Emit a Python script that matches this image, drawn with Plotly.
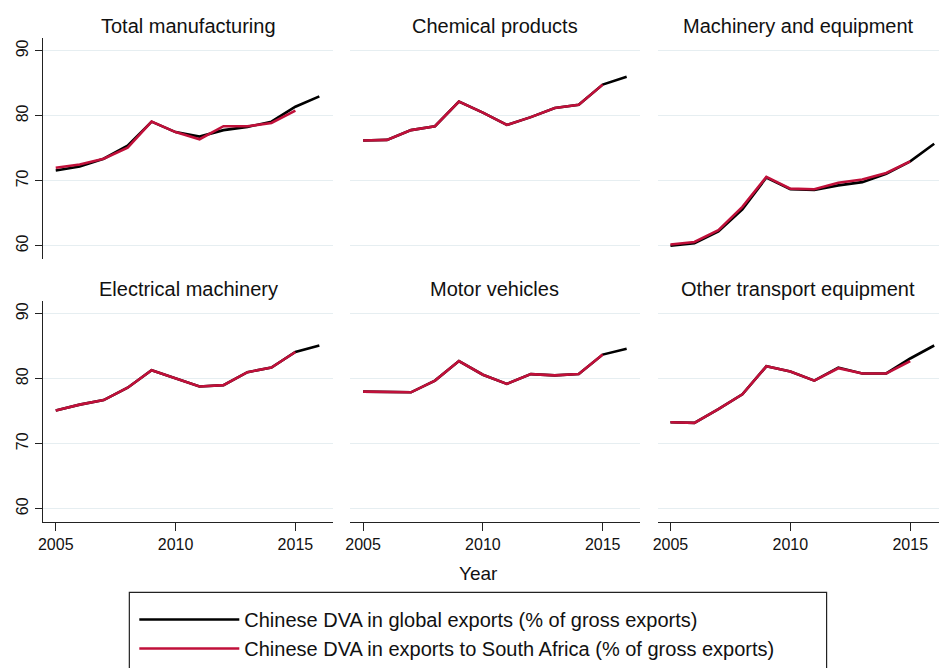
import plotly.graph_objects as go

years_global = [2005, 2006, 2007, 2008, 2009, 2010, 2011, 2012, 2013, 2014, 2015, 2016]
years_sa = [2005, 2006, 2007, 2008, 2009, 2010, 2011, 2012, 2013, 2014, 2015]

sectors = ["Total manufacturing", "Chemical products", "Machinery and equipment",
           "Electrical machinery", "Motor vehicles", "Other transport equipment"]

global_total = [71.6, 72.2, 73.4, 75.4, 79.1, 77.5, 76.8, 77.8, 78.3, 79.1, 81.4, 83.0]
sa_total = [72.0, 72.5, 73.4, 75.1, 79.1, 77.5, 76.4, 78.4, 78.4, 78.9, 80.8]

global_chem = [76.2, 76.3, 77.8, 78.4, 82.2, 80.5, 78.6, 79.8, 81.2, 81.7, 84.8, 86.0]
sa_chem = [76.2, 76.3, 77.8, 78.4, 82.2, 80.5, 78.6, 79.8, 81.2, 81.7, 84.8]

global_mach = [60.0, 60.4, 62.2, 65.6, 70.5, 68.7, 68.6, 69.3, 69.8, 71.1, 73.0, 75.7]
sa_mach = [60.2, 60.6, 62.4, 66.0, 70.6, 68.8, 68.7, 69.7, 70.2, 71.2, 73.0]

global_elec = [75.1, 76.0, 76.7, 78.6, 81.3, 80.1, 78.8, 79.0, 81.0, 81.7, 84.1, 85.1]
sa_elec = [75.1, 76.0, 76.7, 78.6, 81.3, 80.1, 78.8, 79.0, 81.0, 81.7, 84.1]

global_motor = [78.0, 77.9, 77.9, 79.7, 82.7, 80.6, 79.2, 80.7, 80.5, 80.7, 83.7, 84.6]
sa_motor = [78.0, 77.9, 77.9, 79.7, 82.7, 80.6, 79.2, 80.7, 80.5, 80.7, 83.7]

global_other = [73.3, 73.2, 75.3, 77.6, 81.9, 81.1, 79.7, 81.7, 80.8, 80.8, 83.1, 85.1]
sa_other = [73.3, 73.2, 75.3, 77.6, 81.9, 81.1, 79.7, 81.6, 80.8, 80.8, 82.7]

x_ticks = [2005, 2010, 2015]
y_ticks = [60, 70, 80, 90]

global_series = [global_total, global_chem, global_mach, global_elec, global_motor, global_other]
sa_series = [sa_total, sa_chem, sa_mach, sa_elec, sa_motor, sa_other]

name_global = "Chinese DVA in global exports (% of gross exports)"
name_sa = "Chinese DVA in exports to South Africa (% of gross exports)"

W, H = 939, 668
BLACK = "#000000"
RED = "#C0103A"
GRID = "#E6EEF1"
AXIS = "#222222"
FONT = "Liberation Sans, Arial, Helvetica, sans-serif"

# panel geometry in pixels
col_px = [(38, 330), (347, 638), (656, 939)]
row_px = [(38, 260), (302, 524)]
x_ranges = [[2004.46, 2016.58], [2004.46, 2016.54], [2004.46, 2016.2]]
y_range = [58, 92]

fig = go.Figure()
layout = dict()
annotations = []

for i in range(6):
    r, c = divmod(i, 3)
    idx = "" if i == 0 else str(i + 1)
    xa = "x" + idx
    ya = "y" + idx
    fig.add_trace(go.Scatter(x=years_global, y=global_series[i], mode="lines",
                             line=dict(color=BLACK, width=2.6), name=name_global,
                             showlegend=(i == 0), legendrank=1,
                             xaxis=xa, yaxis=ya))
    fig.add_trace(go.Scatter(x=years_sa, y=sa_series[i], mode="lines",
                             line=dict(color=RED, width=2.6), name=name_sa,
                             showlegend=(i == 0), legendrank=2,
                             xaxis=xa, yaxis=ya))
    x0, x1 = col_px[c]
    y0, y1 = row_px[r]
    layout["xaxis" + idx] = dict(
        domain=[x0 / W, x1 / W], range=x_ranges[c], anchor=ya,
        tickvals=x_ticks, showgrid=False, zeroline=False,
        showline=(r == 1), linecolor=AXIS, linewidth=1.2,
        ticks="outside" if r == 1 else "", ticklen=8, tickcolor=AXIS, tickwidth=1.2,
        showticklabels=(r == 1), tickfont=dict(size=16, color="#111", family=FONT),
    )
    layout["yaxis" + idx] = dict(
        domain=[1 - y1 / H, 1 - y0 / H], range=y_range, anchor=xa,
        tickvals=y_ticks, showgrid=True, gridcolor=GRID, gridwidth=1.2, zeroline=False,
        showline=(c == 0), linecolor=AXIS, linewidth=1.2,
        ticks="outside" if c == 0 else "", ticklen=7, tickcolor=AXIS, tickwidth=1.2,
        showticklabels=(c == 0), tickangle=-90,
        tickfont=dict(size=16, color="#111", family=FONT),
    )
    title_y = 26 if r == 0 else 290
    annotations.append(dict(text=sectors[i], x=(x0 + x1) / 2 / W, y=1 - title_y / H,
                            xref="paper", yref="paper", showarrow=False,
                            xanchor="center", yanchor="middle",
                            font=dict(size=20, color="#111", family=FONT)))

annotations.append(dict(text="Year", x=476 / W, y=1 - 576 / H, xref="paper", yref="paper",
                        showarrow=False, xanchor="center", yanchor="middle",
                        font=dict(size=19, color="#111", family=FONT)))

fig.update_layout(
    width=W, height=H,
    margin=dict(l=0, r=0, t=0, b=0),
    paper_bgcolor="white", plot_bgcolor="white",
    font=dict(family=FONT, color="#111"),
    annotations=annotations,
    shapes=[dict(type="rect", xref="paper", yref="paper",
                 x0=125 / W, x1=826 / W, y0=-0.01, y1=1 - 595 / H,
                 line=dict(color="#222", width=1.2), fillcolor="rgba(0,0,0,0)",
                 layer="below")],
    legend=dict(x=130 / W, y=1 - 603 / H, xanchor="left", yanchor="top",
                orientation="v", bgcolor="rgba(0,0,0,0)", borderwidth=0,
                font=dict(size=20, color="#111", family=FONT),
                itemwidth=100, tracegroupgap=0, traceorder="normal"),
    showlegend=True,
    **layout,
)

fig.write_html("out.html", config={"displayModeBar": False},
               post_script="document.body.style.margin='0';document.body.style.overflow='hidden';")
